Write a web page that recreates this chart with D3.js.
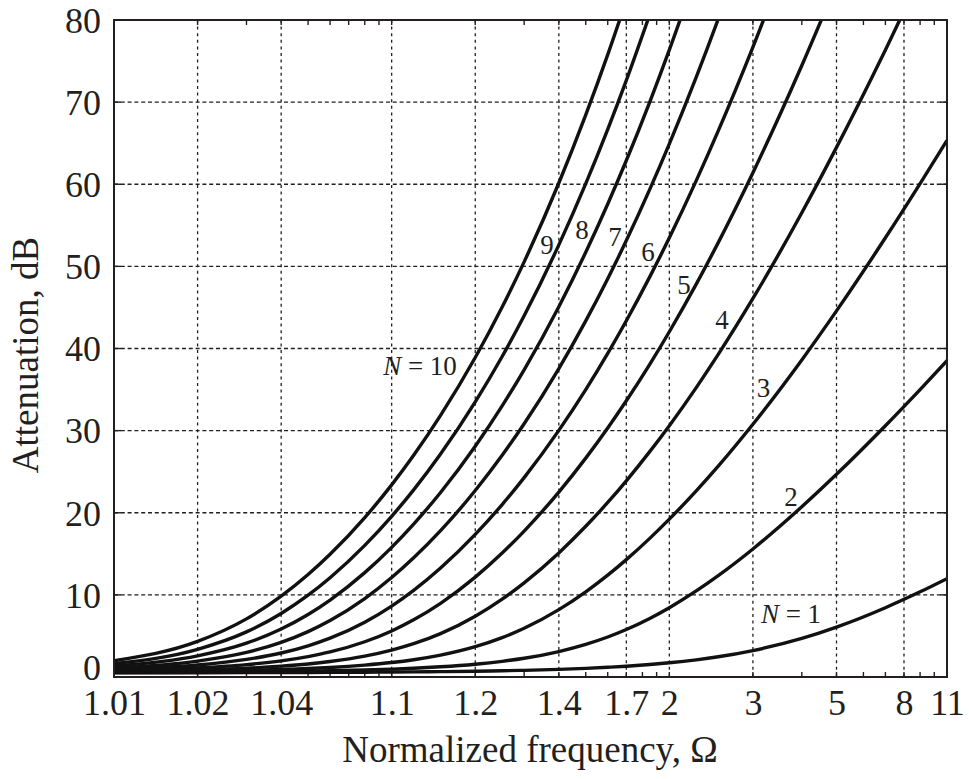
<!DOCTYPE html>
<html>
<head>
<meta charset="utf-8">
<script src="https://cdn.jsdelivr.net/npm/d3@7"></script>
<style>
  html, body { margin: 0; padding: 0; background: #fff; }
  svg { display: block; font-family: "Liberation Serif", "Times New Roman", "DejaVu Serif", serif; }
</style>
</head>
<body>
<svg id="chart" width="969" height="779"></svg>
<script>
// Normalized frequency samples (Ω) shared by all curves
const omega = [1.01, 1.02, 1.03, 1.04, 1.05, 1.06, 1.08, 1.1, 1.12, 1.15, 1.2, 1.25, 1.3,
               1.4, 1.5, 1.6, 1.7, 1.85, 2, 2.25, 2.5, 3, 4, 5, 7, 9, 11];

// Stopband attenuation (dB) for filter orders N = 1 … 10;
// each series runs until the curve has left the 80 dB frame
const attN1  = [0.51, 0.52, 0.53, 0.54, 0.55, 0.56, 0.58, 0.60, 0.62, 0.65, 0.70, 0.76, 0.81,
                0.93, 1.05, 1.18, 1.31, 1.52, 1.73, 2.09, 2.46, 3.22, 4.70, 6.08, 8.44, 10.37, 11.98];
const attN2  = [0.54, 0.58, 0.62, 0.66, 0.71, 0.76, 0.85, 0.96, 1.06, 1.24, 1.56, 1.91, 2.28,
                3.10, 3.97, 4.87, 5.78, 7.13, 8.44, 10.48, 12.34, 15.59, 20.73, 24.68, 30.60, 35.00, 38.51];
const attN3  = [0.59, 0.69, 0.79, 0.91, 1.03, 1.16, 1.45, 1.76, 2.10, 2.66, 3.69, 4.79, 5.93,
                8.20, 10.37, 12.40, 14.29, 16.88, 19.22, 22.67, 25.68, 30.78, 38.61, 44.58, 53.48, 60.08, 65.34];
const attN4  = [0.67, 0.86, 1.07, 1.32, 1.59, 1.89, 2.54, 3.27, 4.05, 5.28, 7.40, 9.48, 11.47,
                15.11, 18.35, 21.25, 23.89, 27.44, 30.60, 35.24, 39.28, 46.09, 56.53, 64.49, 76.36, 85.16];
const attN5  = [0.77, 1.11, 1.51, 1.97, 2.49, 3.05, 4.29, 5.61, 6.96, 8.97, 12.16, 15.09, 17.77,
                22.52, 26.65, 30.32, 33.63, 38.07, 42.04, 47.84, 52.89, 61.40, 74.46, 84.40];
const attN6  = [0.91, 1.46, 2.14, 2.92, 3.80, 4.73, 6.68, 8.64, 10.55, 13.27, 17.36, 21.00, 24.28,
                30.03, 35.00, 39.41, 43.38, 48.72, 53.48, 60.44, 66.50, 76.71, 92.38];
const attN7  = [1.09, 1.94, 3.00, 4.22, 5.53, 6.87, 9.55, 12.11, 14.51, 17.82, 22.71, 27.00, 30.84,
                37.56, 43.36, 48.50, 53.14, 59.37, 64.92, 73.04, 80.11, 92.02];
const attN8  = [1.33, 2.57, 4.12, 5.84, 7.61, 9.37, 12.71, 15.79, 18.62, 22.47, 28.10, 33.01, 37.41,
                45.09, 51.72, 57.60, 62.89, 70.01, 76.36, 85.64];
const attN9  = [1.62, 3.37, 5.49, 7.74, 9.96, 12.09, 16.03, 19.57, 22.79, 27.15, 33.50, 39.03, 43.98,
                52.62, 60.08, 66.69, 72.65, 80.66];
const attN10 = [1.98, 4.34, 7.08, 9.84, 12.47, 14.94, 19.41, 23.39, 26.99, 31.85, 38.90, 45.05, 50.55,
                60.15, 68.44, 75.78, 82.41];

const seriesList = [attN1, attN2, attN3, attN4, attN5, attN6, attN7, attN8, attN9, attN10];

// Axis ticks
const xTickValues = [1.01, 1.02, 1.04, 1.1, 1.2, 1.4, 1.7, 2, 3, 5, 8, 11];
const xTickLabels = ["1.01", "1.02", "1.04", "1.1", "1.2", "1.4", "1.7", "2", "3", "5", "8", "11"];
const yTickValues = [0, 10, 20, 30, 40, 50, 60, 70, 80];
const xGridValues = [1.02, 1.04, 1.1, 1.2, 1.4, 1.7, 2, 3, 5, 8];
const yGridValues = [10, 20, 30, 40, 50, 60, 70];

// Curve annotations, anchored in data units (Ω, dB)
const curveLabels = [
  { italic: "N", text: " = 10", w: 1.1265, a: 37.9 },
  { italic: "",  text: "9",     w: 1.3625, a: 52.6 },
  { italic: "",  text: "8",     w: 1.485,  a: 54.5 },
  { italic: "",  text: "7",     w: 1.637,  a: 53.6 },
  { italic: "",  text: "6",     w: 1.838,  a: 51.8 },
  { italic: "",  text: "5",     w: 2.129,  a: 47.8 },
  { italic: "",  text: "4",     w: 2.548,  a: 43.5 },
  { italic: "",  text: "3",     w: 3.183,  a: 35.25 },
  { italic: "",  text: "2",     w: 3.743,  a: 21.9 },
  { italic: "N", text: " = 1",  w: 3.743,  a: 7.7 }
];

const margin = { left: 114, right: 947, top: 20, bottom: 677 };
const ink = "#231f20";

// Horizontal axis is logarithmic in (Ω − 1)
const xLog = d3.scaleLog().domain([0.01, 10]).range([margin.left, margin.right]);
const x = w => xLog(w - 1);
const y = d3.scaleLinear().domain([0, 80]).range([margin.bottom, margin.top]);

const svg = d3.select("#chart");

svg.append("defs").append("clipPath").attr("id", "plot-clip")
  .append("rect")
  .attr("x", margin.left).attr("y", margin.top)
  .attr("width", margin.right - margin.left).attr("height", margin.bottom - margin.top);

// Dotted grid
const grid = svg.append("g").attr("stroke", ink).attr("stroke-width", 1.3).attr("fill", "none");
grid.selectAll("line.gx").data(xGridValues).join("line")
  .attr("class", "gx")
  .attr("x1", d => x(d)).attr("x2", d => x(d))
  .attr("y1", margin.top).attr("y2", margin.bottom)
  .attr("stroke-dasharray", "3 3.6");
grid.selectAll("line.gy").data(yGridValues).join("line")
  .attr("class", "gy")
  .attr("x1", margin.left).attr("x2", margin.right)
  .attr("y1", d => y(d)).attr("y2", d => y(d))
  .attr("stroke-dasharray", "4 2.8");

// Inward minor ticks on the log axis (top and bottom)
const minorTicks = [];
[0.01, 0.1, 1].forEach(dec => { for (let k = 1; k <= 9; k++) minorTicks.push(dec * k); });
minorTicks.push(10);
const tickG = svg.append("g").attr("stroke", ink).attr("stroke-width", 1.4);
tickG.selectAll("line.tb").data(minorTicks).join("line")
  .attr("x1", d => xLog(d)).attr("x2", d => xLog(d))
  .attr("y1", margin.bottom).attr("y2", margin.bottom - 5);
tickG.selectAll("line.tt").data(minorTicks).join("line")
  .attr("x1", d => xLog(d)).attr("x2", d => xLog(d))
  .attr("y1", margin.top).attr("y2", margin.top + 5);
// Inward ticks on the dB axis (left and right)
tickG.selectAll("line.tl").data(yGridValues).join("line")
  .attr("x1", margin.left).attr("x2", margin.left + 7)
  .attr("y1", d => y(d)).attr("y2", d => y(d));
tickG.selectAll("line.tr").data(yGridValues).join("line")
  .attr("x1", margin.right).attr("x2", margin.right - 7)
  .attr("y1", d => y(d)).attr("y2", d => y(d));

// Attenuation curves
const line = d3.line()
  .x(d => x(d.w))
  .y(d => y(d.a))
  .curve(d3.curveMonotoneX);

svg.append("g").attr("clip-path", "url(#plot-clip)")
  .selectAll("path").data(seriesList).join("path")
  .attr("d", s => line(s.map((a, i) => ({ w: omega[i], a }))))
  .attr("fill", "none")
  .attr("stroke", "#111")
  .attr("stroke-width", 3.4)
  .attr("stroke-linejoin", "round");

// Frame
svg.append("rect")
  .attr("x", margin.left).attr("y", margin.top)
  .attr("width", margin.right - margin.left).attr("height", margin.bottom - margin.top)
  .attr("fill", "none").attr("stroke", ink).attr("stroke-width", 2);

// Tick labels
const fontSize = 36;
const xAxis = d3.axisBottom(xLog)
  .tickValues(xTickValues.map(v => v - 1))
  .tickFormat((d, i) => xTickLabels[i])
  .tickSize(0);
const gx = svg.append("g").attr("transform", `translate(0,${margin.bottom})`).call(xAxis);
gx.select(".domain").remove();
gx.selectAll("text")
  .attr("y", 38).attr("dy", null)
  .attr("font-size", fontSize)
  .attr("font-family", "Liberation Serif, Times New Roman, serif")
  .attr("fill", ink);

const yAxis = d3.axisLeft(y).tickValues(yTickValues).tickFormat(d3.format("d")).tickSize(0);
const gy = svg.append("g").attr("transform", `translate(${margin.left},0)`).call(yAxis);
gy.select(".domain").remove();
gy.selectAll("text")
  .attr("x", -13)
  .attr("y", d => (d === 0 ? -10 : 0))   // the zero label sits a little above the axis line
  .attr("dy", "0.34em")
  .attr("font-size", fontSize)
  .attr("font-family", "Liberation Serif, Times New Roman, serif")
  .attr("fill", ink);

// Axis titles
svg.append("text")
  .attr("x", 530).attr("y", 762)
  .attr("text-anchor", "middle")
  .attr("font-size", fontSize + 1)
  .attr("fill", ink)
  .text("Normalized frequency, Ω");

svg.append("text")
  .attr("transform", "translate(38,355) rotate(-90)")
  .attr("text-anchor", "middle")
  .attr("font-size", fontSize + 1)
  .attr("fill", ink)
  .text("Attenuation, dB");

// Curve order annotations
const lbl = svg.append("g")
  .attr("font-size", 27)
  .attr("fill", ink)
  .attr("text-anchor", "middle");
curveLabels.forEach(c => {
  const t = lbl.append("text")
    .attr("x", x(c.w)).attr("y", y(c.a))
    .attr("dy", "0.34em");
  if (c.italic) t.append("tspan").attr("font-style", "italic").text(c.italic);
  t.append("tspan").text(c.text);
});
</script>
</body>
</html>
